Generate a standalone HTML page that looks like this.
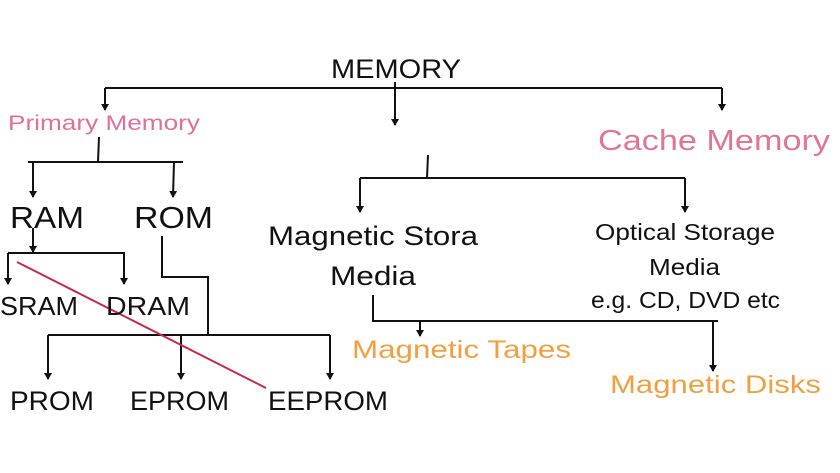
<!DOCTYPE html>
<html><head><style>
html,body{margin:0;padding:0;background:#fff;}
svg{display:block;}
text{font-family:"Liberation Sans",sans-serif;}
</style></head><body>
<svg width="840" height="473" viewBox="0 0 840 473" xmlns="http://www.w3.org/2000/svg">
<defs>
<marker id="a" markerWidth="8" markerHeight="8" refX="6" refY="4" orient="auto" markerUnits="userSpaceOnUse">
<path d="M0,0 L7,4 L0,8 z" fill="#111"/>
</marker>
</defs>
<g stroke="#111" stroke-width="2" fill="none">
<line x1="105" y1="88" x2="722" y2="88"/>
<line x1="105" y1="88" x2="105" y2="110" marker-end="url(#a)"/>
<line x1="395" y1="82" x2="395" y2="125" marker-end="url(#a)"/>
<line x1="722" y1="88" x2="722" y2="110" marker-end="url(#a)"/>
<line x1="99" y1="137" x2="98" y2="162"/>
<line x1="28" y1="162" x2="183" y2="162"/>
<line x1="33" y1="162" x2="33" y2="197" marker-end="url(#a)"/>
<line x1="174" y1="162" x2="173" y2="197" marker-end="url(#a)"/>
<line x1="33" y1="228" x2="33" y2="252" marker-end="url(#a)"/>
<line x1="8" y1="253" x2="125" y2="253"/>
<line x1="8" y1="253" x2="8" y2="284" marker-end="url(#a)"/>
<line x1="124" y1="253" x2="124" y2="284" marker-end="url(#a)"/>
<polyline points="162,236 162,277 208,277 208,335"/>
<line x1="48" y1="335" x2="330" y2="335"/>
<line x1="48" y1="335" x2="48" y2="379" marker-end="url(#a)"/>
<line x1="181" y1="335" x2="181" y2="379" marker-end="url(#a)"/>
<line x1="330" y1="335" x2="330" y2="379" marker-end="url(#a)"/>
<line x1="428" y1="155" x2="427" y2="178"/>
<line x1="360" y1="178" x2="685" y2="178"/>
<line x1="360" y1="178" x2="360" y2="212" marker-end="url(#a)"/>
<line x1="685" y1="178" x2="685" y2="212" marker-end="url(#a)"/>
<polyline points="373,295 373,321 718,321"/>
<line x1="420" y1="321" x2="420" y2="336" marker-end="url(#a)"/>
<line x1="713" y1="321" x2="713" y2="371" marker-end="url(#a)"/>
</g>
<line x1="17" y1="262" x2="266" y2="388" stroke="#c8284a" stroke-width="2"/>
<g fill="#111">
<text x="331" y="78" font-size="27" textLength="130" lengthAdjust="spacingAndGlyphs">MEMORY</text>
<text x="10" y="228" font-size="31" textLength="74" lengthAdjust="spacingAndGlyphs">RAM</text>
<text x="134" y="228" font-size="31" textLength="79" lengthAdjust="spacingAndGlyphs">ROM</text>
<text x="0" y="315" font-size="26" textLength="78" lengthAdjust="spacingAndGlyphs">SRAM</text>
<text x="106" y="315" font-size="26" textLength="84" lengthAdjust="spacingAndGlyphs">DRAM</text>
<text x="10" y="410" font-size="27" textLength="84" lengthAdjust="spacingAndGlyphs">PROM</text>
<text x="130" y="410" font-size="27" textLength="99" lengthAdjust="spacingAndGlyphs">EPROM</text>
<text x="268" y="410" font-size="27" textLength="120" lengthAdjust="spacingAndGlyphs">EEPROM</text>
<text x="268" y="245" font-size="27" textLength="210" lengthAdjust="spacingAndGlyphs">Magnetic Stora</text>
<text x="330" y="285" font-size="27" textLength="86" lengthAdjust="spacingAndGlyphs">Media</text>
<text x="595" y="240" font-size="23" textLength="180" lengthAdjust="spacingAndGlyphs">Optical Storage</text>
<text x="649" y="275" font-size="23" textLength="71" lengthAdjust="spacingAndGlyphs">Media</text>
<text x="591" y="308" font-size="23" textLength="189" lengthAdjust="spacingAndGlyphs">e.g. CD, DVD etc</text>
</g>
<text x="8" y="130" font-size="21" fill="#e0709a" textLength="192" lengthAdjust="spacingAndGlyphs">Primary Memory</text>
<text x="598" y="150" font-size="29" fill="#e07595" textLength="232" lengthAdjust="spacingAndGlyphs">Cache Memory</text>
<text x="352" y="358" font-size="25" fill="#f0a040" textLength="219" lengthAdjust="spacingAndGlyphs">Magnetic Tapes</text>
<text x="610" y="393" font-size="25" fill="#f0a040" textLength="211" lengthAdjust="spacingAndGlyphs">Magnetic Disks</text>
</svg>
</body></html>
